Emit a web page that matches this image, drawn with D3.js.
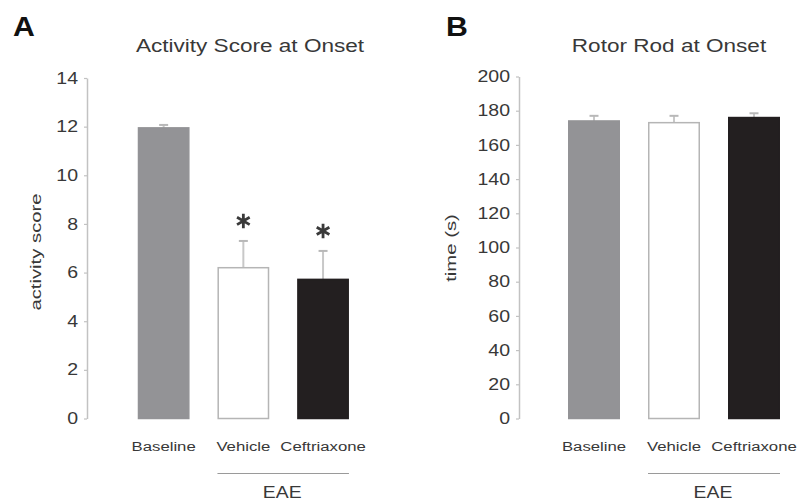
<!DOCTYPE html>
<html>
<head>
<meta charset="utf-8">
<script src="https://cdn.jsdelivr.net/npm/d3@7"></script>
<style>
  html, body { margin: 0; padding: 0; background: #fff; }
  svg { display: block; font-family: "Liberation Sans", Arial, Helvetica, sans-serif; }
</style>
</head>
<body>
<svg id="fig" width="804" height="503"></svg>
<script>
// Group labels shared by both panels
const groups = ["Baseline", "Vehicle", "Ceftriaxone"];
const eaeGroups = ["Vehicle", "Ceftriaxone"];

// Panel A: activity score (mean and SEM)
const activityMean = [11.95, 6.2, 5.72];
const activitySem = [0.12, 1.1, 1.17];
const activitySignificant = [false, true, true];
const activityTicks = [0, 2, 4, 6, 8, 10, 12, 14];

// Panel B: rotor rod time in seconds (mean and SEM)
const rotorMean = [174, 173, 176];
const rotorSem = [3, 4, 2.5];
const rotorSignificant = [false, false, false];
const rotorTicks = [0, 20, 40, 60, 80, 100, 120, 140, 160, 180, 200];

const fills = { Baseline: "#939396", Vehicle: "#ffffff", Ceftriaxone: "#231f20" };
const strokes = { Baseline: "#939396", Vehicle: "#b5b5b5", Ceftriaxone: "#231f20" };

const svg = d3.select("#fig");
const TEXT = "#383838";
const AXIS = "#c2c2c2";

// Horizontally widened text, anchored at (x, y)
function wideText(g, x, y, str, size, sx, anchor, weight) {
  return g.append("text")
    .attr("transform", `translate(${x},${y}) scale(${sx},1)`)
    .attr("text-anchor", anchor || "middle")
    .attr("font-size", size)
    .attr("font-weight", weight || "normal")
    .attr("fill", TEXT)
    .text(str);
}

function panel(opt) {
  const g = svg.append("g");
  const y = d3.scaleLinear().domain(opt.domain).range([418.5, opt.yTop]);
  const x = d3.scaleBand().domain(groups)
    .range(opt.xRange).paddingInner(0.35).paddingOuter(0.175);

  // panel letter and title
  wideText(g, opt.letterX, 35.5, opt.letter, 27, 1.12, "start", "bold").attr("fill", "#111");
  wideText(g, opt.titleX, 52, opt.title, 18.5, 1.22);

  // y axis
  const ax = g.append("g")
    .attr("transform", `translate(${opt.axisX},0)`)
    .call(d3.axisLeft(y).tickValues(opt.ticks).tickSize(3).tickSizeOuter(0).tickPadding(6));
  ax.select(".domain").attr("stroke", AXIS).attr("stroke-width", 1.5);
  ax.selectAll(".tick line").attr("stroke", AXIS).attr("stroke-width", 1.2);
  ax.selectAll(".tick text")
    .attr("fill", TEXT)
    .attr("font-size", 16)
    .attr("font-family", "Liberation Sans, Arial, sans-serif")
    .each(function () {
      const t = d3.select(this);
      const tx = +t.attr("x");
      t.attr("x", 0).attr("transform", `translate(${tx},0) scale(1.22,1)`);
    });

  // y axis title, rotated
  g.append("text")
    .attr("transform", `translate(${opt.ylabelX},${opt.ylabelY}) rotate(-90) scale(1.45,1)`)
    .attr("text-anchor", "middle")
    .attr("dy", "0.28em")
    .attr("font-size", 14)
    .attr("fill", TEXT)
    .text(opt.ylabel);

  const data = groups.map((k, i) => ({ k, m: opt.mean[i], e: opt.sem[i], sig: opt.sig[i] }));

  // error bars (upper half only)
  const cap = 4.5;
  const eb = g.append("g").selectAll("g").data(data).join("g");
  eb.append("line")
    .attr("x1", d => x(d.k) + x.bandwidth() / 2).attr("x2", d => x(d.k) + x.bandwidth() / 2)
    .attr("y1", d => y(d.m)).attr("y2", d => y(d.m + d.e))
    .attr("stroke", "#c8c8c8").attr("stroke-width", 2);
  eb.append("line")
    .attr("x1", d => x(d.k) + x.bandwidth() / 2 - cap).attr("x2", d => x(d.k) + x.bandwidth() / 2 + cap)
    .attr("y1", d => y(d.m + d.e)).attr("y2", d => y(d.m + d.e))
    .attr("stroke", "#b8b8b8").attr("stroke-width", 2);

  // bars
  g.append("g").selectAll("rect").data(data).join("rect")
    .attr("x", d => x(d.k) + 0.75)
    .attr("width", x.bandwidth() - 1.5)
    .attr("y", d => y(d.m))
    .attr("height", d => y(0) - y(d.m))
    .attr("fill", d => fills[d.k])
    .attr("stroke", d => strokes[d.k])
    .attr("stroke-width", 1.5);

  // significance asterisks
  g.append("g").selectAll("path").data(data.filter(d => d.sig)).join("path")
    .attr("transform", d => `translate(${x(d.k) + x.bandwidth() / 2},${y(d.m + d.e) - 20})`)
    .attr("d", d3.symbol(d3.symbolAsterisk, 150))
    .attr("fill", "none")
    .attr("stroke", "#3a3a3a")
    .attr("stroke-width", 2.8);

  // group labels
  data.forEach(d => wideText(g, x(d.k) + x.bandwidth() / 2, 451, d.k, 13.5, 1.24));

  // EAE bracket
  const x0 = x(eaeGroups[0]), x1 = x(eaeGroups[eaeGroups.length - 1]) + x.bandwidth();
  g.append("line").attr("x1", x0).attr("x2", x1).attr("y1", 473.5).attr("y2", 473.5)
    .attr("stroke", "#9a9a9a").attr("stroke-width", 1.2);
  wideText(g, (x0 + x1) / 2 - 1, 497.5, "EAE", 17, 1.14);
}

panel({
  letter: "A", letterX: 13, title: "Activity Score at Onset", titleX: 250,
  domain: [0, 14], yTop: 78, ticks: activityTicks, axisX: 87,
  xRange: [123.8, 362.9], mean: activityMean, sem: activitySem, sig: activitySignificant,
  ylabel: "activity score", ylabelX: 37, ylabelY: 252
});

panel({
  letter: "B", letterX: 446, title: "Rotor Rod at Onset", titleX: 669,
  domain: [0, 200], yTop: 76.5, ticks: rotorTicks, axisX: 519,
  xRange: [554, 794], mean: rotorMean, sem: rotorSem, sig: rotorSignificant,
  ylabel: "time (s)", ylabelX: 452, ylabelY: 248
});
</script>
</body>
</html>
